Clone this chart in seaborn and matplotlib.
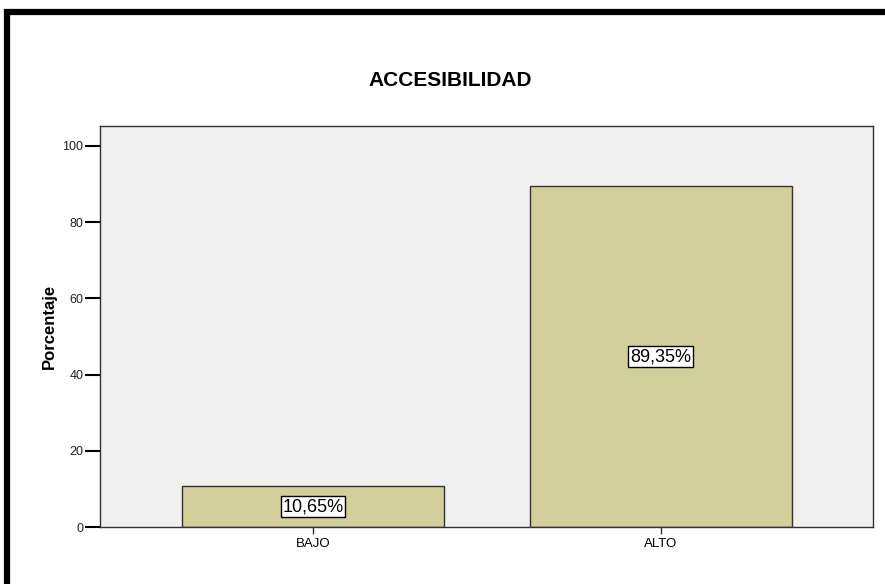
import matplotlib
matplotlib.use("Agg")
import matplotlib.pyplot as plt
import seaborn as sns
import pandas as pd
from matplotlib.lines import Line2D

categories = ["BAJO", "ALTO"]
values = [10.65, 89.35]
labels = ["10,65%", "89,35%"]
yticks = [0, 20, 40, 60, 80, 100]

sns.set_theme(style="white")
plt.rcParams['font.family'] = ['Liberation Sans', 'DejaVu Sans']
plt.rcParams['text.color'] = 'black'

fig = plt.figure(figsize=(8.85, 5.84), dpi=100)
fig.patch.set_facecolor("white")
ax = fig.add_axes([100/885, 1-527/584, (873-100)/885, (527-126)/584])
ax.set_facecolor("#F0F0F0")

df = pd.DataFrame({"cat": categories, "val": values})
sns.barplot(data=df, x="cat", y="val", order=categories, color="#D3CF9A",
            saturation=1, width=0.754, edgecolor="#333333", linewidth=1.0, ax=ax)

ax.set_xlim(-0.613, 1.611)
ax.set_ylim(0, 105.2)
ax.set_yticks(yticks)
ax.set_yticklabels([str(t) for t in yticks], fontsize=9, color="#222222")
ax.tick_params(axis="y", direction="out", length=11, width=1.5, color="black", pad=1, left=True)
ax.tick_params(axis="x", direction="out", length=5, width=1.0, color="#333333", pad=3, bottom=True, labelsize=9.5, labelcolor="black")
ax.set_xlabel("")
ax.set_ylabel("Porcentaje", fontsize=12, fontweight="bold", labelpad=4, color="black")
for s in ax.spines.values():
    s.set_color("#333333")
    s.set_linewidth(1.0)

for p, lab in zip(ax.patches, labels):
    x = p.get_x() + p.get_width() / 2
    y = p.get_height() / 2
    ax.text(x, y, lab, ha="center", va="center", fontsize=13, color="black",
            bbox=dict(boxstyle="square,pad=0.1", facecolor="white", edgecolor="black", linewidth=1.0))

fig.text(450/885, 1-80/584, "ACCESIBILIDAD", ha="center", va="center",
         fontsize=15, fontweight="bold", color="black")

# figure frame (top and left thick black lines)
fig.add_artist(Line2D([4/885, 1.0], [1-12/584, 1-12/584], color="black", linewidth=4.5,
                      transform=fig.transFigure, solid_capstyle="butt"))
fig.add_artist(Line2D([7/885, 7/885], [0, 1-9/584], color="black", linewidth=4.5,
                      transform=fig.transFigure, solid_capstyle="butt"))

fig.savefig("out.png", dpi=100)
